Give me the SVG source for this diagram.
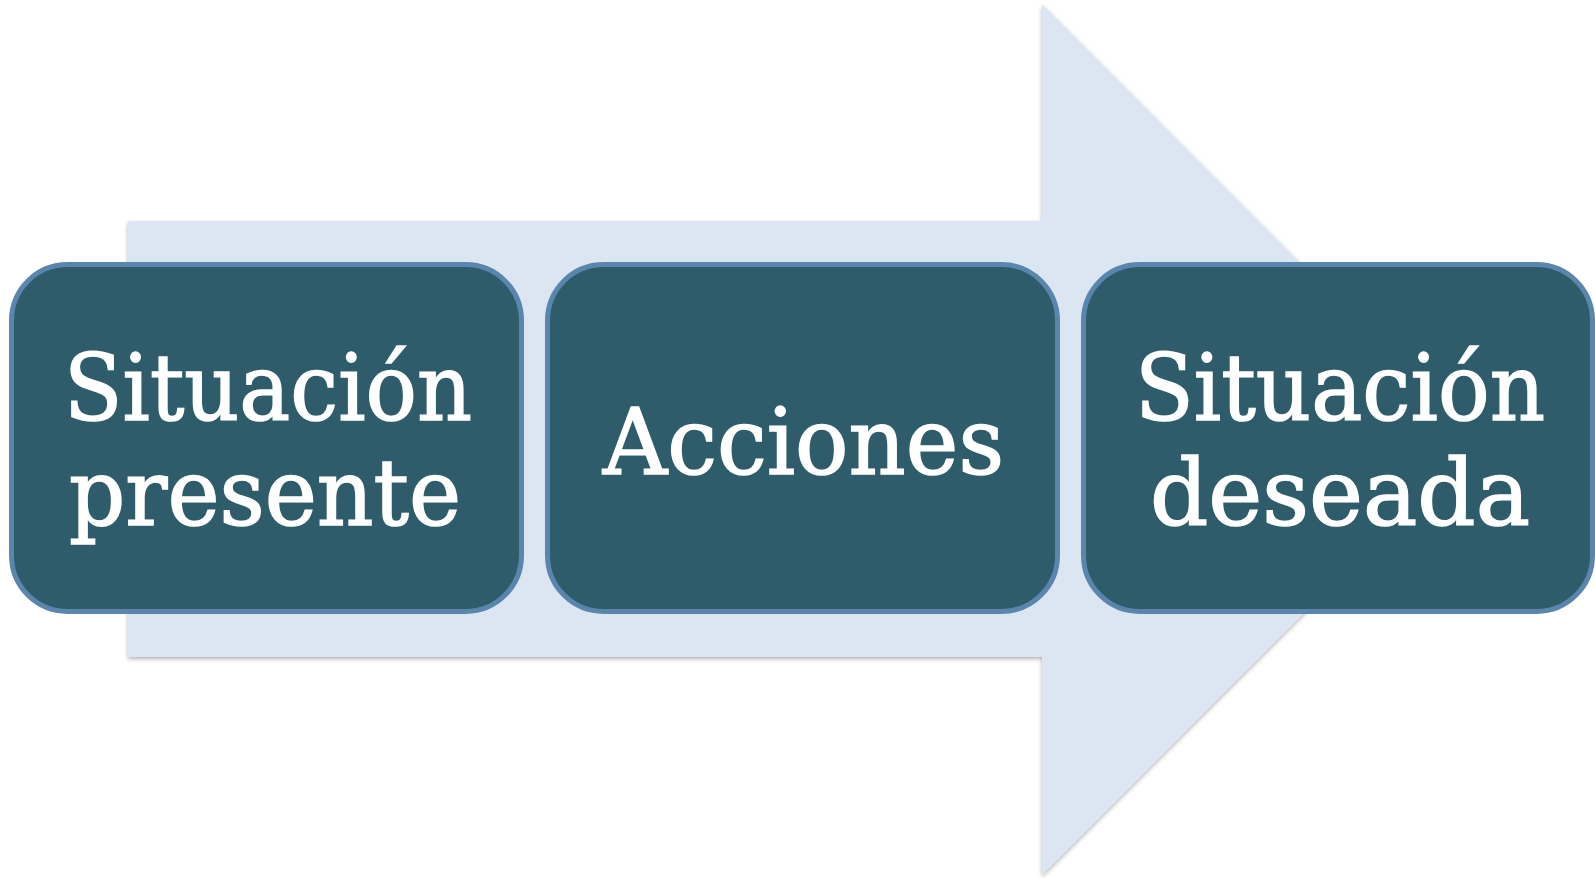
<svg xmlns="http://www.w3.org/2000/svg" width="1595" height="878" viewBox="0 0 1595 878">
  <defs>
    <filter id="sh" x="-5%" y="-5%" width="110%" height="110%">
      <feDropShadow dx="0" dy="2" stdDeviation="2" flood-color="#000" flood-opacity="0.3"/>
    </filter>
  </defs>
  <style>
    .box { fill: #2E5C6B; stroke: #5A86AE; stroke-width: 5; }
    .lbl { fill: #FFFFFF; stroke: #FFFFFF; stroke-width: 1.6; font-family: "DejaVu Serif", "Liberation Serif", serif; font-size: 92px; text-anchor: middle; }
  </style>
  <rect width="1595" height="878" fill="#FFFFFF"/>
  <g id="connectors">
    <polygon id="arrow" points="128,221 1042,221 1042,4 1477,439.5 1042,875 1042,657 128,657" fill="#DCE6F2" filter="url(#sh)"/>
  </g>
  <g id="node-presente">
    <rect class="box" x="11.5" y="264.5" width="510" height="347" rx="56" ry="56"/>
    <text class="lbl" x="268" y="420" textLength="408" lengthAdjust="spacingAndGlyphs">Situación</text>
    <text class="lbl" x="265" y="525" textLength="392" lengthAdjust="spacingAndGlyphs">presente</text>
  </g>
  <g id="node-acciones">
    <rect class="box" x="547.5" y="264.5" width="510" height="347" rx="56" ry="56"/>
    <text class="lbl" x="803.5" y="474" textLength="401" lengthAdjust="spacingAndGlyphs">Acciones</text>
  </g>
  <g id="node-deseada">
    <rect class="box" x="1083.5" y="264.5" width="509" height="347" rx="56" ry="56"/>
    <text class="lbl" x="1340" y="420" textLength="410" lengthAdjust="spacingAndGlyphs">Situación</text>
    <text class="lbl" x="1340" y="525" textLength="380" lengthAdjust="spacingAndGlyphs">deseada</text>
  </g>
</svg>
